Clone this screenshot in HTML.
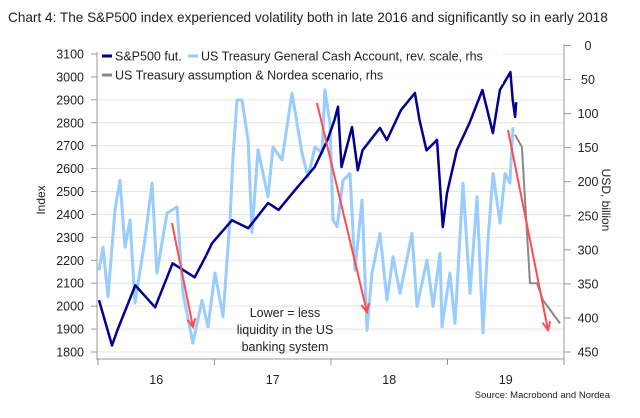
<!DOCTYPE html>
<html><head><meta charset="utf-8"><style>
html,body{margin:0;padding:0;background:#fff;}
svg{display:block;font-family:"Liberation Sans",sans-serif;}
</style></head><body>
<svg id="chart" width="640" height="418" viewBox="0 0 640 418">
<text x="8" y="22" font-size="13.6" fill="#222">Chart 4: The S&amp;P500 index experienced volatility both in late 2016 and significantly so in early 2018</text>
<g id="grid"></g>
<g id="series"></g>
<g id="axes"></g>
<rect x="100" y="44" width="403" height="40" fill="#fff" opacity="0.95"/>
<g>
<g><line x1="102" y1="56" x2="112" y2="56" stroke="#00008f" stroke-width="3"/><text x="115" y="60.5" font-size="12.5" fill="#222">S&amp;P500 fut.</text></g>
<g><line x1="188" y1="56" x2="198" y2="56" stroke="#99ccff" stroke-width="3"/><text x="201" y="60.5" font-size="12.5" fill="#222">US Treasury General Cash Account, rev. scale, rhs</text></g>
<g><line x1="102" y1="75" x2="112" y2="75" stroke="#888" stroke-width="3"/><text x="115" y="79.5" font-size="12.5" fill="#222">US Treasury assumption &amp; Nordea scenario, rhs</text></g>
</g>
<text font-size="12.5" fill="#222" text-anchor="middle"><tspan x="285" y="317">Lower = less</tspan><tspan x="285" y="334">liquidity in the US</tspan><tspan x="285" y="351">banking system</tspan></text>
<text transform="translate(45,200) rotate(-90)" font-size="12" fill="#222" text-anchor="middle">Index</text>
<text transform="translate(602,200) rotate(90)" font-size="12" fill="#222" text-anchor="middle">USD, billion</text>
<text x="610" y="398" font-size="9.5" fill="#222" text-anchor="end">Source: Macrobond and Nordea</text>
</svg>
<script>
// S&P500 futures: decimal year, index value
const spDates = [2016.009,2016.12,2016.17,2016.32,2016.49,2016.64,2016.83,2016.92,2016.98,2017.15,2017.29,2017.46,2017.55,2017.69,2017.86,2017.97,2018.03,2018.06,2018.09,2018.18,2018.23,2018.27,2018.42,2018.48,2018.60,2018.72,2018.76,2018.82,2018.91,2018.96,2018.996,2019.08,2019.19,2019.30,2019.39,2019.45,2019.54,2019.56,2019.58,2019.59];
const spValues = [2026,1829,1900,2091,1995,2187,2126,2213,2275,2375,2340,2450,2420,2506,2607,2725,2812,2870,2607,2781,2593,2680,2777,2725,2855,2930,2812,2680,2725,2345,2493,2680,2800,2943,2755,2943,3021,2900,2825,2890];
// Treasury General Cash Account, USD bn (reversed right scale)
const cashDates = [2016.009,2016.043,2016.086,2016.146,2016.189,2016.232,2016.275,2016.318,2016.403,2016.464,2016.506,2016.592,2016.678,2016.730,2016.815,2016.893,2016.944,2017.004,2017.073,2017.133,2017.159,2017.193,2017.236,2017.288,2017.322,2017.373,2017.459,2017.502,2017.579,2017.665,2017.708,2017.751,2017.803,2017.863,2017.923,2017.948,2017.991,2018.017,2018.052,2018.103,2018.163,2018.206,2018.266,2018.309,2018.352,2018.421,2018.481,2018.532,2018.592,2018.695,2018.738,2018.824,2018.876,2018.936,2018.953,2019.021,2019.064,2019.133,2019.193,2019.253,2019.305,2019.348,2019.391,2019.451,2019.494,2019.536,2019.562];
const cashValues = [330,296,369,241,198,296,256,378,285,202,334,246,237,364,437,374,413,334,398,256,164,80,80,139,275,153,222,149,168,70,114,158,193,149,158,65,114,256,266,198,188,330,227,418,334,276,374,310,364,276,383,315,383,305,413,334,408,202,364,222,422,285,188,261,188,202,120];
// Nordea scenario (gray)
const scenDates = [2019.579,2019.639,2019.708,2019.768,2019.820,2019.966];
const scenValues = [131,149,349,349,374,408];
const leftTicks = [1800,1900,2000,2100,2200,2300,2400,2500,2600,2700,2800,2900,3000,3100];
const rightTicks = [0,50,100,150,200,250,300,350,400,450];
const yearTicks = [2016,2017,2018,2019,2020];
const yearLabels = ["16","17","18","19"];

const X0=98, XW=116.5;
const xs = d => X0 + (d-2016)*XW;
const yL = v => 352 - (v-1800)*(298/1300);
const yR = v => 45.5 + v*(306.5/450);
const NS="http://www.w3.org/2000/svg";
function mk(tag, parent){const e=document.createElementNS(NS,tag);document.getElementById(parent).appendChild(e);return e;}

leftTicks.forEach(v=>{
  const g=mk('line','grid');
  
  
  g.setAttribute('x1',X0);g.setAttribute('x2',564);g.setAttribute('y1',yL(v));g.setAttribute('y2',yL(v));
  g.setAttribute('stroke','#e4e4e4');g.setAttribute('stroke-width','1');
  const t=mk('text','axes');
  
  
  t.setAttribute('x',84);t.setAttribute('y',yL(v)+4.5);t.setAttribute('text-anchor','end');
  t.setAttribute('font-size','12.5');t.setAttribute('fill','#222');t.textContent=v;
  const tk=mk('line','axes');
  
  
  tk.setAttribute('x1',91);tk.setAttribute('x2',97);tk.setAttribute('y1',yL(v));tk.setAttribute('y2',yL(v));
  tk.setAttribute('stroke','#999');
});
rightTicks.forEach(v=>{
  const t=mk('text','axes');
  
  
  t.setAttribute('x',588);t.setAttribute('y',yR(v)+4.5);t.setAttribute('text-anchor','middle');
  t.setAttribute('font-size','12.5');t.setAttribute('fill','#222');t.textContent=v;
  const tk=mk('line','axes');
  
  
  tk.setAttribute('x1',564);tk.setAttribute('x2',571);tk.setAttribute('y1',yR(v));tk.setAttribute('y2',yR(v));
  tk.setAttribute('stroke','#999');
});
yearTicks.forEach(y=>{
  const tk=mk('line','axes');
  
  
  tk.setAttribute('x1',xs(y));tk.setAttribute('x2',xs(y));tk.setAttribute('y1',359);tk.setAttribute('y2',365);
  tk.setAttribute('stroke','#999');
});
yearLabels.forEach((l,i)=>{
  const t=mk('text','axes');
  
  
  t.setAttribute('x',xs(yearTicks[i]+0.5));t.setAttribute('y',384);t.setAttribute('text-anchor','middle');
  t.setAttribute('font-size','12.5');t.setAttribute('fill','#222');t.textContent=l;
});
[[97,52,97,360],[564,44,564,360],[97,359,564,359]].forEach(a=>{
  const l=mk('line','axes');
  
  
  l.setAttribute('x1',a[0]);l.setAttribute('y1',a[1]);l.setAttribute('x2',a[2]);l.setAttribute('y2',a[3]);
  l.setAttribute('stroke','#999');
});
function path(dates,vals,yf,color,w,name){
  const p=mk('path','series');
  
  
  p.setAttribute('d',dates.map((d,i)=>(i?'L':'M')+xs(d).toFixed(1)+','+yf(vals[i]).toFixed(1)).join(''));
  p.setAttribute('fill','none');p.setAttribute('stroke',color);p.setAttribute('stroke-width',w);p.setAttribute('stroke-linejoin','round');
}
path(cashDates,cashValues,yR,'#99ccff',3,'cash-account-line');
path(scenDates,scenValues,yR,'#888',2,'nordea-scenario-line');
path(spDates,spValues,yL,'#00008f',2.5,'sp500-line');
// red arrows
[[172,223,193,327],[317,103,367,312],[508,130,548,330]].forEach(a=>{
  const l=mk('line','series');
  
  
  l.setAttribute('x1',a[0]);l.setAttribute('y1',a[1]);l.setAttribute('x2',a[2]);l.setAttribute('y2',a[3]);
  l.setAttribute('stroke','#ff4d4d');l.setAttribute('stroke-width','2');
  const ang=Math.atan2(a[3]-a[1],a[2]-a[0]);
  const h=mk('path','series');
  
  
  const p1=[a[2]-9*Math.cos(ang-0.45),a[3]-9*Math.sin(ang-0.45)],p2=[a[2]-9*Math.cos(ang+0.45),a[3]-9*Math.sin(ang+0.45)];
  h.setAttribute('d',`M${p1}L${a[2]},${a[3]}L${p2}`);
  h.setAttribute('fill','none');h.setAttribute('stroke','#ff4d4d');h.setAttribute('stroke-width','2');
});
</script>
</body></html>
